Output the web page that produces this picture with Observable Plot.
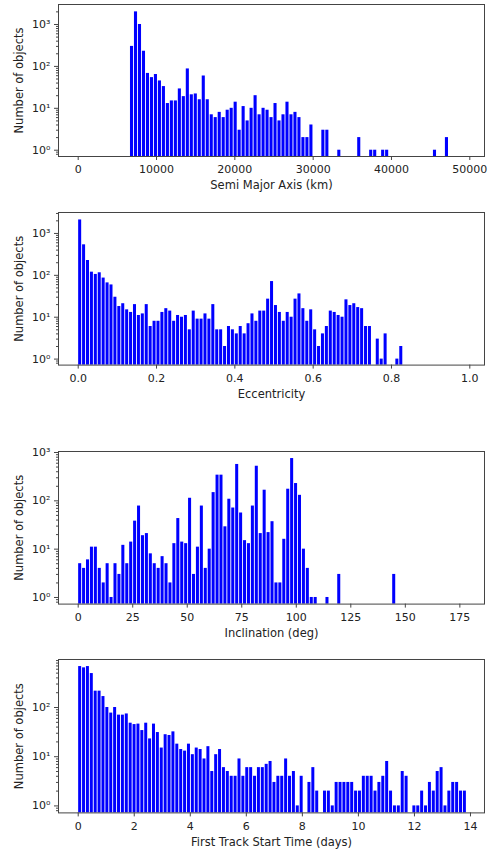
<!DOCTYPE html>
<html>
<head>
<meta charset="utf-8">
<script src="https://cdn.jsdelivr.net/npm/d3@7"></script>
<script src="https://cdn.jsdelivr.net/npm/@observablehq/plot@0.6"></script>
<style>
  html, body { margin: 0; padding: 0; background: #fff; }
  #wrap { position: relative; width: 490px; height: 852px; overflow: hidden; }
  .panel { position: absolute; left: 0; }
</style>
</head>
<body>
<div id="wrap"></div>
<script>
// ---------- DATA ----------
// Semi major axis histogram (km): bins start at smaStart, width smaWidth
const smaStart = 6617;
const smaWidth = 509;
const smaCounts = [300, 2000, 1000, 230, 68, 54, 64, 45, 33, 13, 15, 15, 29, 19, 87, 21, 22, 16, 59, 16,
  7, 6, 8, 6, 9, 10, 14, 3, 11, 5, 10, 20, 7, 10, 9, 6, 13, 5, 7, 14,
  7, 8, 6, 2, 2, 4, 0, 0, 3, 3, 0, 0, 1, 0, 0, 0, 0, 2, 0, 0,
  1, 1, 0, 1, 1, 0, 0, 0, 0, 0, 0, 0, 0, 0, 0, 0, 1, 0, 0, 2];
const smaTicks = [0, 10000, 20000, 30000, 40000, 50000];

// Eccentricity histogram: bins start at 0, width 0.01
const eccStart = 0;
const eccWidth = 0.01;
const eccCounts = [2100, 535, 226, 119, 105, 115, 86, 66, 59, 30, 18, 21, 15, 13, 20, 11, 12, 20, 6, 8,
  8, 13, 16, 14, 8, 11, 10, 11, 5, 14, 9, 9, 12, 9, 20, 5, 5, 2, 6, 5,
  4, 6, 4, 7, 12, 8, 14, 14, 27, 71, 19, 13, 8, 13, 10, 27, 36, 16, 8, 15,
  5, 2, 4, 6, 14, 13, 11, 10, 26, 19, 21, 17, 16, 6, 6, 0, 3, 1, 4, 0,
  0, 1, 2];
const eccTicks = [0, 0.2, 0.4, 0.6, 0.8, 1.0];

// Inclination histogram (deg): bins start at 0, width 1.8
const incStart = 0;
const incWidth = 1.8;
const incCounts = [5, 4, 6, 11, 11, 4, 2, 5, 1, 5, 3, 12, 5, 14, 38, 78, 19, 21, 8, 5,
  4, 7, 5, 2, 13, 43, 14, 13, 113, 3, 11, 78, 4, 10, 148, 340, 340, 29, 108, 71,
  566, 56, 15, 13, 78, 520, 21, 166, 22, 37, 2, 2, 16, 174, 750, 228, 130, 10, 4, 1,
  1, 0, 0, 1, 0, 0, 3, 0, 0, 0, 0, 0, 0, 0, 0, 0, 0, 0, 0, 0,
  3];
const incTicks = [0, 25, 50, 75, 100, 125, 150, 175];

// First track start time histogram (days): bins start at 0, width 0.1387
const timeStart = 0;
const timeWidth = 0.1387;
const timeCounts = [680, 640, 680, 490, 215, 215, 167, 100, 77, 100, 70, 70, 74, 48, 45, 46, 34, 48, 23, 46,
  31, 15, 28, 27, 32, 18, 14, 13, 18, 11, 15, 14, 9, 16, 5, 11, 14, 6, 5, 4,
  4, 9, 4, 6, 6, 4, 6, 6, 7, 8, 3, 4, 4, 9, 4, 5, 1, 4, 0, 3,
  6, 2, 0, 2, 2, 1, 3, 3, 3, 3, 3, 2, 2, 4, 4, 4, 2, 3, 4, 8,
  2, 1, 1, 5, 4, 0, 1, 1, 2, 1, 3, 2, 5, 6, 1, 2, 3, 3, 2, 2];
const timeTicks = [0, 2, 4, 6, 8, 10, 12, 14];

const yLabel = "Number of objects";

// ---------- DRAW ----------
const FONT = "DejaVu Sans, sans-serif";
const supDigits = {"-": "⁻", "0": "⁰", "1": "¹", "2": "²", "3": "³", "4": "⁴"};
const powFmt = d => "10" + String(Math.round(Math.log10(d))).split("").map(c => supDigits[c]).join("");

function drawPanel(cfg) {
  const bars = cfg.counts
    .map((c, i) => ({x1: cfg.start + i * cfg.width, x2: cfg.start + (i + 1) * cfg.width, c}))
    .filter(d => d.c > 0);
  const [y0, y1] = cfg.yDomain;
  const major = [1, 10, 100, 1000, 10000].filter(v => v >= y0 && v <= y1 * 1.0001);
  const minor = [];
  for (let e = -1; e <= 4; e++) for (let m = 2; m <= 9; m++) {
    const v = m * Math.pow(10, e);
    if (v > y0 && v < y1) minor.push(v);
  }
  const svgTop = Math.max(0, cfg.frameTop - 6);
  const mt = cfg.frameTop - svgTop;
  const mb = 40;
  const height = cfg.frameBottom - svgTop + mb;
  const chart = Plot.plot({
    width: 490,
    height,
    marginLeft: 58,
    marginRight: 6,
    marginTop: mt,
    marginBottom: mb,
    style: {fontFamily: FONT, fontSize: "11px", color: "#222", background: "transparent", overflow: "visible"},
    x: {domain: cfg.xDomain},
    y: {type: "log", domain: cfg.yDomain},
    marks: [
      Plot.rect(bars, {x1: "x1", x2: "x2", y1: y0, y2: "c", fill: "#0000ff", insetLeft: 0.45, insetRight: 0.45}),
      Plot.axisX({ticks: cfg.xTicks, tickFormat: cfg.xFormat, tickSize: 4, tickPadding: 5, label: null, fontSize: 11, stroke: "#444"}),
      Plot.axisY({ticks: major, tickFormat: powFmt, tickSize: 4, tickPadding: 4, label: null, fontSize: 11, stroke: "#444"}),
      Plot.axisY({ticks: minor, tickSize: 2, tickFormat: () => "", label: null, stroke: "#444"}),
      Plot.frame({stroke: "#444", strokeWidth: 1}),
      Plot.text([cfg.xLabel], {frameAnchor: "bottom", dy: 29, lineAnchor: "middle", textAnchor: "middle", fontSize: 11.5, fill: "#222"}),
      Plot.text([yLabel], {frameAnchor: "left", dx: -39, rotate: -90, textAnchor: "middle", lineAnchor: "middle", fontSize: 11.5, fill: "#222"})
    ]
  });
  const div = document.createElement("div");
  div.className = "panel";
  div.style.top = svgTop + "px";
  div.appendChild(chart);
  document.getElementById("wrap").appendChild(div);
}

drawPanel({
  counts: smaCounts, start: smaStart, width: smaWidth,
  xDomain: [-2515, 51877], yDomain: [Math.pow(10, -0.150), Math.pow(10, 3.477)],
  xTicks: smaTicks, xFormat: d3.format("d"), xLabel: "Semi Major Axis (km)",
  frameTop: 4, frameBottom: 156
});
drawPanel({
  counts: eccCounts, start: eccStart, width: eccWidth,
  xDomain: [-0.0503, 1.0375], yDomain: [Math.pow(10, -0.143), Math.pow(10, 3.50)],
  xTicks: eccTicks, xFormat: d3.format(".1f"), xLabel: "Eccentricity",
  frameTop: 211.7, frameBottom: 364.3
});
drawPanel({
  counts: incCounts, start: incStart, width: incWidth,
  xDomain: [-9.03, 186.3], yDomain: [Math.pow(10, -0.137), Math.pow(10, 3.021)],
  xTicks: incTicks, xFormat: d3.format("d"), xLabel: "Inclination (deg)",
  frameTop: 450.7, frameBottom: 603.3
});
drawPanel({
  counts: timeCounts, start: timeStart, width: timeWidth,
  xDomain: [-0.703, 14.50], yDomain: [Math.pow(10, -0.142), Math.pow(10, 2.976)],
  xTicks: timeTicks, xFormat: d3.format("d"), xLabel: "First Track Start Time (days)",
  frameTop: 659.3, frameBottom: 812.7
});
</script>
</body>
</html>
